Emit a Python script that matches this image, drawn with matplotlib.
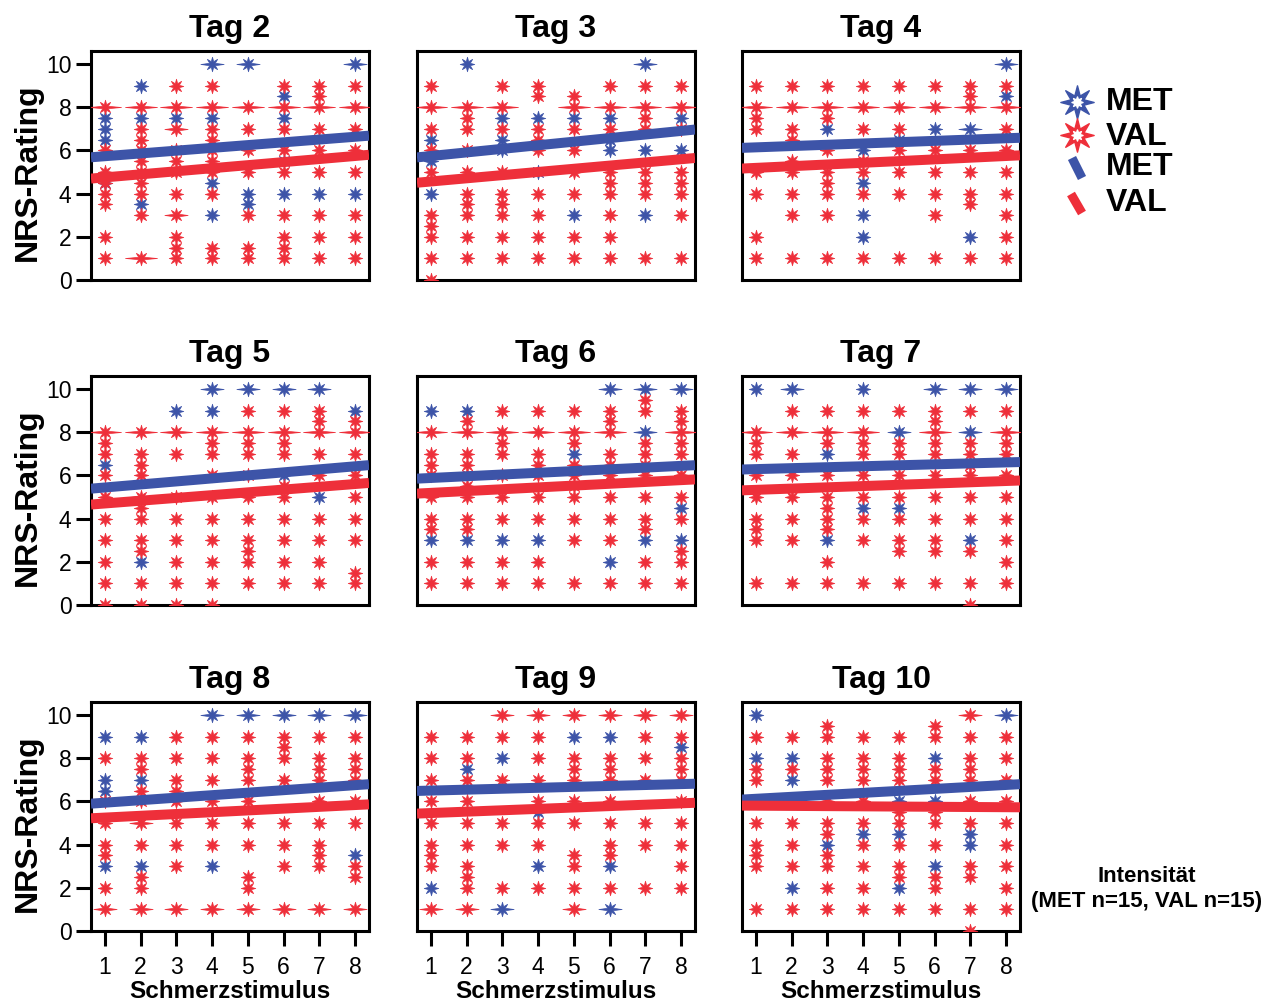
import numpy as np
import matplotlib.pyplot as plt
from matplotlib.path import Path
from matplotlib.lines import Line2D

plt.rcParams['font.family'] = ['Liberation Sans', 'DejaVu Sans']

tags = ['Tag 2', 'Tag 3', 'Tag 4', 'Tag 5', 'Tag 6', 'Tag 7', 'Tag 8', 'Tag 9', 'Tag 10']
stimuli = [1, 2, 3, 4, 5, 6, 7, 8]
y_ticks = [0, 2, 4, 6, 8, 10]

# NRS ratings per stimulus (one list per stimulus), repeated values = several patients
val_tag2 = [[8, 8, 8, 6, 5, 4.5, 4, 3.5, 2, 1],
            [8, 8, 8, 7, 6.5, 6, 5.5, 5, 5, 4.5, 4, 3, 1, 1, 1],
            [9, 8, 8, 8, 7, 7, 6, 5.5, 5, 4, 3, 3, 2, 1.5, 1],
            [9, 8, 8, 8, 7, 6.5, 6, 5.5, 5, 4, 1.5, 1],
            [8, 8, 8, 7, 6, 5, 3, 1.5, 1],
            [9, 8, 8, 8, 7, 6, 5, 3, 2, 1.5, 1],
            [9, 8.5, 8, 8, 8, 7, 6, 5, 3, 2, 1],
            [9, 8, 8, 8, 7, 6, 5, 3, 2, 1]]
met_tag2 = [[7.5, 7, 6.5, 4.5], [9, 7.5, 3.5], [7.5], [10, 10, 7.5, 4.5, 3],
            [10, 10, 4, 3.5], [8.5, 7.5, 5.5, 4], [4], [10, 10, 4]]

val_tag3 = [[9, 8, 8, 8, 7, 6, 5, 3, 2.5, 2, 1, 0],
            [8, 8, 8, 7.5, 7, 6, 5, 4, 3.5, 3, 2, 1],
            [9, 8, 8, 8, 7, 5, 4, 3.5, 3, 2, 1],
            [9, 8.5, 7, 6.5, 6, 4, 3, 2, 1],
            [8.5, 8, 8, 8, 7, 6, 5, 4, 2, 1],
            [9, 8, 8, 8, 7, 5, 4.5, 4, 3, 2, 1],
            [9, 8, 8, 8, 7.5, 7, 5, 4.5, 4, 1],
            [9, 8, 8, 8, 7, 5, 4.5, 4, 3, 1]]
met_tag3 = [[6.5, 5.5, 4], [10], [7.5, 6.5, 6], [7.5, 5],
            [7.5, 3], [7.5, 6.5, 6], [10, 10, 6, 3], [7.5, 6]]

val_tag4 = [[9, 8, 8, 8, 7.5, 7, 5, 4, 2, 1],
            [9, 8, 8, 8, 7, 6.5, 5.5, 5, 4, 3, 1],
            [9, 8, 8, 8, 7.5, 6, 5, 4.5, 4, 3, 1],
            [9, 8, 8, 8, 7, 5.5, 5, 4, 1],
            [9, 8, 8, 8, 7, 6, 5, 4, 1],
            [9, 8, 8, 8, 6, 5, 4, 3, 1],
            [9, 8.5, 8, 8, 8, 6, 5, 4, 3.5, 1],
            [9, 8, 8, 8, 7, 6, 5, 4, 3, 2, 1]]
met_tag4 = [[], [], [7], [6, 4.5, 3, 2], [6.5], [7], [7, 7, 2], [10, 10, 8.5]]

val_tag5 = [[8, 8, 8, 7.5, 7, 6, 5, 4, 3, 2, 1, 0],
            [8, 8, 8, 7, 6.5, 6, 5, 5, 4.5, 4, 3, 2.5, 1, 0],
            [8, 8, 8, 7, 5, 5, 4, 3, 2, 1, 0],
            [8, 8, 8, 7.5, 7, 6, 5, 4, 3, 2, 1, 0],
            [9, 8, 8, 8, 7.5, 7, 6, 5, 4, 3, 2.5, 2, 1],
            [9, 8, 8, 8, 7.5, 7, 5.5, 5, 4, 3, 2, 1],
            [9, 8.5, 8, 8, 8, 7, 6, 4, 3, 2, 1],
            [8.5, 8, 8, 8, 7, 6, 5, 4, 3, 1.5, 1]]
met_tag5 = [[6.5], [2], [9], [10, 10, 9], [10, 10], [10, 10, 6], [10, 10, 5], [9]]

val_tag6 = [[8, 8, 8, 7, 6.5, 6, 5, 4, 3.5, 2, 1],
            [8.5, 8, 8, 8, 7, 6.5, 6, 5.5, 5, 4, 3.5, 2, 1],
            [9, 8, 8, 8, 7.5, 7, 6, 5, 4, 2, 1],
            [9, 8, 8, 8, 7, 6.5, 6, 5, 4, 2, 1],
            [9, 8, 8, 8, 7.5, 6.5, 6, 5.5, 5, 4, 3, 1],
            [9, 8.5, 8, 8, 8, 7, 6.5, 6, 5, 4, 3, 1],
            [9.5, 9, 7.5, 7, 6.5, 6, 5, 4, 3.5, 2, 1],
            [9, 8.5, 8, 8, 8, 7.5, 7, 6, 5, 4, 2.5, 2, 1]]
met_tag6 = [[9, 3], [9, 3], [3], [3], [7], [10, 10, 2], [10, 10, 8, 8, 3], [10, 10, 4.5, 3]]

val_tag7 = [[8, 8, 8, 7.5, 7, 6, 5, 4, 3.5, 3, 1],
            [9, 8, 8, 8, 7, 6, 5, 4, 3, 1],
            [9, 8, 8, 8, 7.5, 6, 5, 4.5, 4, 3.5, 2, 1],
            [9, 8, 8, 8, 7.5, 7, 6, 5, 4, 3, 1],
            [9, 7.5, 7, 6, 5, 4, 3, 2.5, 1],
            [9, 8.5, 8, 8, 8, 7.5, 7, 6, 5, 4, 3, 2.5, 1],
            [9, 7.5, 7, 6.5, 6, 5, 4, 2.5, 1, 0],
            [9, 8, 8, 8, 7.5, 7, 6, 5, 4, 3, 2, 1]]
met_tag7 = [[10], [10, 10], [7, 3], [10, 4.5], [8, 8, 4.5], [10, 10], [10, 10, 8, 8, 3], [10, 10]]

val_tag8 = [[8, 6, 5, 4, 3.5, 2, 1, 1],
            [8, 7.5, 6.5, 6, 5, 5, 4, 2.5, 2, 1, 1],
            [9, 8, 7, 6.5, 6, 5, 4, 3, 1, 1],
            [9, 8, 7, 6, 5, 4, 1, 1],
            [9, 8, 7.5, 7, 6, 5, 4, 2.5, 2, 1, 1],
            [9, 8.5, 8, 7, 5, 4, 3, 1, 1],
            [9, 8, 7.5, 7, 6, 5, 4, 3.5, 3, 1, 1],
            [9, 8, 7.5, 7, 6, 5, 3, 2.5, 1, 1]]
met_tag8 = [[9, 7, 6.5, 3], [9, 7, 3], [], [10, 10, 3], [10, 10], [10, 10], [10, 10], [10, 10, 3.5]]

val_tag9 = [[9, 8, 7, 6, 5, 4, 3.5, 3, 1, 1],
            [9, 8, 7, 6, 5, 4, 3, 2.5, 2, 1, 1],
            [10, 10, 9, 7, 5, 4, 2],
            [10, 10, 9, 8, 7, 6, 5, 4, 2],
            [10, 10, 8, 7.5, 7, 6, 5, 3.5, 3, 2, 1, 1],
            [10, 10, 8, 7.5, 7, 6, 5, 4, 3.5, 2],
            [10, 10, 9, 8, 7, 5, 4, 2],
            [10, 10, 9, 8, 7.5, 7, 6, 5, 4, 3, 2]]
met_tag9 = [[2], [7.5], [8, 1, 1], [5.5, 3], [9], [9, 3, 1, 1], [], [8.5]]

val_tag10 = [[9, 7.5, 7, 5, 4, 3.5, 3, 1],
             [9, 7.5, 6, 5, 4, 3, 1],
             [9.5, 9, 8, 7.5, 7, 6, 5, 4.5, 3.5, 3, 2, 1],
             [9, 8, 7.5, 7, 6, 5, 4, 3, 2, 1],
             [9, 8, 7.5, 7, 5.5, 5, 4, 3, 2.5, 1],
             [9.5, 9, 7.5, 7, 5.5, 5, 4, 2.5, 2, 1],
             [10, 10, 9, 8, 7.5, 7, 6, 5, 3, 2.5, 1, 0],
             [9, 8, 7, 6, 5, 4, 3, 2, 1]]
met_tag10 = [[10, 8], [8, 7, 2], [4], [4.5], [6, 4.5, 2], [8, 6, 3], [4.5, 4], [10, 10]]

val_data = [val_tag2, val_tag3, val_tag4, val_tag5, val_tag6, val_tag7, val_tag8, val_tag9, val_tag10]
met_data = [met_tag2, met_tag3, met_tag4, met_tag5, met_tag6, met_tag7, met_tag8, met_tag9, met_tag10]

# linear fit per day, value at stimulus 1 and stimulus 8
met_fit_1 = [5.73, 5.74, 6.14, 5.44, 5.88, 6.29, 5.94, 6.50, 6.12]
met_fit_8 = [6.63, 6.90, 6.56, 6.42, 6.44, 6.60, 6.75, 6.80, 6.76]
val_fit_1 = [4.75, 4.56, 5.19, 4.70, 5.19, 5.33, 5.25, 5.46, 5.80]
val_fit_8 = [5.74, 5.59, 5.74, 5.60, 5.78, 5.74, 5.83, 5.91, 5.73]

BLUE = '#3D54A8'
RED = '#EE2F3A'
W, H = 1281, 1008
XLIM = (0.61, 8.39)
YLIM = (0, 10.6)


def star(h=1.0, n=8, inner=0.42):
    """8-point star, horizontal arms stretched by h."""
    verts = []
    for k in range(2 * n):
        ang = np.pi * k / n
        if k % 2 == 0:
            r = h if k in (0, n) else 1.0
        else:
            r = inner
        verts.append((r * np.cos(ang), r * np.sin(ang)))
    verts.append(verts[0])
    codes = [Path.MOVETO] + [Path.LINETO] * (2 * n - 1) + [Path.CLOSEPOLY]
    return Path(verts, codes)


def draw_points(ax, columns, color, z):
    groups = {}
    for x, ys in zip(stimuli, columns):
        if len(ys) == 0:
            continue
        vals, counts = np.unique(ys, return_counts=True)
        for y, c in zip(vals, counts):
            h = 1.0 if c == 1 else (1.6 if c == 2 else 2.2)
            groups.setdefault(h, ([], []))
            groups[h][0].append(x)
            groups[h][1].append(y)
    for h, (xs, ys) in groups.items():
        ax.plot(xs, ys, ls='none', marker=star(h), ms=10.5 * h, color=color,
                mec=color, mew=0.5, zorder=z)


def fit_line(ax, f1, f8, color, z):
    xl = np.array(XLIM)
    slope = (f8 - f1) / 7.0
    ax.plot(xl, f1 + slope * (xl - 1), color=color, lw=7.2,
            solid_capstyle='butt', zorder=z)


fig = plt.figure(figsize=(W / 100, H / 100), dpi=100)

col_left = [91, 417, 742]
row_top = [51, 376, 702]
ax_w, ax_h = 278, 229

for i, tag in enumerate(tags):
    r, c = divmod(i, 3)
    left, top = col_left[c], row_top[r]
    ax = fig.add_axes([left / W, 1 - (top + ax_h) / H, ax_w / W, ax_h / H])

    draw_points(ax, met_data[i], BLUE, 2)
    draw_points(ax, val_data[i], RED, 3)
    fit_line(ax, met_fit_1[i], met_fit_8[i], BLUE, 4)
    fit_line(ax, val_fit_1[i], val_fit_8[i], RED, 5)

    ax.set_xlim(XLIM)
    ax.set_ylim(YLIM)
    for s in ax.spines.values():
        s.set_linewidth(2.2)
    ax.tick_params(length=11, width=2.2, labelsize=16.5)
    ax.tick_params(axis='y', pad=3)
    ax.tick_params(axis='x', pad=7)

    if c == 0:
        ax.set_yticks(y_ticks)
        fig.text(28 / W, 1 - (top + ax_h / 2 + 7) / H, 'NRS-Rating', rotation=90,
                 ha='center', va='center', fontsize=23, fontweight='bold')
    else:
        ax.set_yticks([])
    if r == 2:
        ax.set_xticks(stimuli)
        fig.text((left + ax_w / 2) / W, 1 - 991 / H, 'Schmerzstimulus',
                 ha='center', va='center', fontsize=17.5, fontweight='bold')
    else:
        ax.set_xticks([])

    ax.set_title(tag, fontsize=23, fontweight='bold', pad=10)

# legend
def px(x, y):
    return x / W, 1 - y / H

for yy, col in [(101.7, BLUE), (135, RED)]:
    fx, fy = px(1077, yy)
    fig.add_artist(Line2D([fx], [fy], marker=star(1.0, inner=0.42), ms=24, color=col,
                          mec=col, ls='none', transform=fig.transFigure))
    fig.add_artist(Line2D([fx], [fy], marker=star(1.0, inner=0.5), ms=8, color='white',
                          ls='none', transform=fig.transFigure))

for (x0, y0, x1, y1), col in [((1072, 158, 1082, 178), BLUE), ((1071, 194, 1082, 213), RED)]:
    a, b = px(x0, y0)
    cc, d = px(x1, y1)
    fig.add_artist(Line2D([a, cc], [b, d], color=col, lw=6.5, solid_capstyle='butt',
                          transform=fig.transFigure))

for yy, label in [(101.7, 'MET'), (136.7, 'VAL'), (166.7, 'MET'), (203.3, 'VAL')]:
    fx, fy = px(1106, yy)
    fig.text(fx, fy, label, ha='left', va='center', fontsize=23, fontweight='bold')

fig.text(1147 / W, 1 - 877 / H, 'Intensität', ha='center', va='center',
         fontsize=16, fontweight='bold')
fig.text(1147 / W, 1 - 901 / H, '(MET n=15, VAL n=15)', ha='center', va='center',
         fontsize=16, fontweight='bold')

fig.savefig('out.png', dpi=100)
